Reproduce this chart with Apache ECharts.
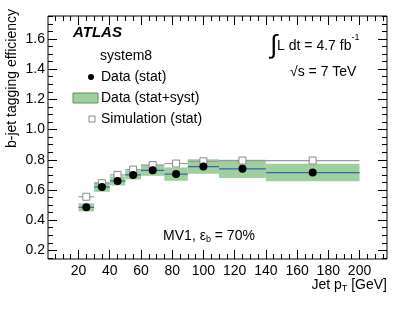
<!DOCTYPE html>
<html><head><meta charset="utf-8">
<script src="https://cdn.jsdelivr.net/npm/echarts@6/dist/echarts.min.js"></script>
<style>html,body{margin:0;padding:0;background:#fff}#c{width:407px;height:309px}</style>
</head><body><div id="c"></div>
<script>
// ---- data ----
var binLow    = [20, 30, 40, 50, 60, 75, 90, 110, 140];
var binHigh   = [30, 40, 50, 60, 75, 90, 110, 140, 200];
var binCenter = [25, 35, 45, 55, 67.5, 82.5, 100, 125, 170];
var dataEff   = [0.485, 0.62, 0.66, 0.70, 0.73, 0.705, 0.755, 0.74, 0.715];
var dataStat  = [0.012, 0.010, 0.010, 0.010, 0.010, 0.010, 0.012, 0.015, 0.020];
var dataTotal = [0.027, 0.032, 0.030, 0.030, 0.036, 0.044, 0.048, 0.060, 0.058];
var simEff    = [0.555, 0.645, 0.70, 0.735, 0.765, 0.775, 0.79, 0.795, 0.795];
var xTicks    = [20, 40, 60, 80, 100, 120, 140, 160, 180, 200];
var yTicks    = [0.2, 0.4, 0.6, 0.8, 1.0, 1.2, 1.4, 1.6];

var FONT = 'Liberation Sans, Arial, sans-serif';
var GREEN = '#9dd09d', BLUE = '#3b5fb5', GREY = '#9a9a9a';
var XMIN = 0.46, XMAX = 217.6, YMIN = 0.143, YMAX = 1.752;

var xMinor = [], yMinor = [];
for (var v = 5; v < XMAX; v += 5) if (v % 20 !== 0) xMinor.push(v);
for (var k = 3; k * 0.05 < YMAX; k++) if (k % 4 !== 0) yMinor.push(+(k * 0.05).toFixed(2));

function bandItems() { return binLow.map(function (lo, i) { return [lo, binHigh[i], dataEff[i], dataTotal[i]]; }); }
function dataBarItems() { return binLow.map(function (lo, i) { return [lo, binHigh[i], dataEff[i], dataStat[i], binCenter[i]]; }); }
function simBarItems() { return binLow.map(function (lo, i) { return [lo, binHigh[i], simEff[i]]; }); }

function mkX(pos, custom, len, labels) {
  return { type: 'value', position: pos, min: XMIN, max: XMAX, gridIndex: 0,
    axisLine: { show: false }, splitLine: { show: false },
    axisTick: { show: true, inside: true, length: len, customValues: custom, lineStyle: { color: '#000', width: 1 } },
    axisLabel: labels ? { show: true, customValues: custom, color: '#000', fontSize: 14, fontFamily: FONT, margin: 5 } : { show: false } };
}
function mkY(pos, custom, len, labels) {
  return { type: 'value', position: pos, min: YMIN, max: YMAX, gridIndex: 0,
    axisLine: { show: false }, splitLine: { show: false },
    axisTick: { show: true, inside: true, length: len, customValues: custom, lineStyle: { color: '#000', width: 1 } },
    axisLabel: labels ? { show: true, customValues: custom, color: '#000', fontSize: 14, fontFamily: FONT, margin: 3,
      formatter: function (v) { return v.toFixed(1); } } : { show: false } };
}

var chart = echarts.init(document.getElementById('c'), null, { renderer: 'canvas' });
chart.setOption({
  animation: false,
  grid: { left: 48, right: 20, top: 16, bottom: 50, show: true, borderColor: '#000', borderWidth: 1, backgroundColor: 'transparent' },
  xAxis: [ mkX('bottom', xTicks, 9, true), mkX('bottom', xMinor, 5, false), mkX('top', xTicks, 9, false), mkX('top', xMinor, 5, false) ],
  yAxis: [ mkY('left', yTicks, 9, true), mkY('left', yMinor, 5, false), mkY('right', yTicks, 9, false), mkY('right', yMinor, 5, false) ],
  series: [
    { type: 'custom', name: 'band', xAxisIndex: 0, yAxisIndex: 0, data: bandItems(), encode: { x: [0, 1], y: 2 },
      renderItem: function (params, api) {
        var p1 = api.coord([api.value(0), api.value(2) + api.value(3)]);
        var p2 = api.coord([api.value(1), api.value(2) - api.value(3)]);
        return { type: 'rect', shape: { x: p1[0], y: p1[1], width: p2[0] - p1[0], height: p2[1] - p1[1] }, style: { fill: GREEN } };
      }, z: 1 },
    { type: 'custom', name: 'simbar', xAxisIndex: 0, yAxisIndex: 0, data: simBarItems(), encode: { x: [0, 1], y: 2 },
      renderItem: function (params, api) {
        var a = api.coord([api.value(0), api.value(2)]);
        var b = api.coord([api.value(1), api.value(2)]);
        return { type: 'line', shape: { x1: a[0], y1: a[1], x2: b[0], y2: b[1] }, style: { stroke: GREY, lineWidth: 1.2 } };
      }, z: 2 },
    { type: 'custom', name: 'databar', xAxisIndex: 0, yAxisIndex: 0, data: dataBarItems(), encode: { x: [0, 1], y: 2 },
      renderItem: function (params, api) {
        var a = api.coord([api.value(0), api.value(2)]);
        var b = api.coord([api.value(1), api.value(2)]);
        var t = api.coord([api.value(4), api.value(2) + api.value(3)]);
        var d = api.coord([api.value(4), api.value(2) - api.value(3)]);
        return { type: 'group', children: [
          { type: 'line', shape: { x1: a[0], y1: a[1], x2: b[0], y2: b[1] }, style: { stroke: BLUE, lineWidth: 1.2 } },
          { type: 'line', shape: { x1: t[0], y1: t[1], x2: d[0], y2: d[1] }, style: { stroke: BLUE, lineWidth: 1.2 } }
        ] };
      }, z: 3 },
    { type: 'scatter', name: 'sim', xAxisIndex: 0, yAxisIndex: 0, data: binCenter.map(function (x, i) { return [x, simEff[i]]; }),
      symbol: 'rect', symbolSize: 7, itemStyle: { color: '#fff', borderColor: '#888', borderWidth: 1, opacity: 1 }, z: 4 },
    { type: 'scatter', name: 'data', xAxisIndex: 0, yAxisIndex: 0, data: binCenter.map(function (x, i) { return [x, dataEff[i]]; }),
      symbol: 'circle', symbolSize: 8, itemStyle: { color: '#000', opacity: 1 }, z: 5 }
  ],
  graphic: [
    { type: 'text', left: 73, top: 25, style: { text: 'ATLAS', font: 'italic bold 15px ' + FONT, fill: '#000' } },
    { type: 'text', x: 100, y: 56, style: { text: 'system8', font: '14px ' + FONT, fill: '#000', verticalAlign: 'middle' } },
    { type: 'circle', shape: { cx: 91, cy: 77, r: 3 }, style: { fill: '#000' } },
    { type: 'text', x: 101, y: 77, style: { text: 'Data (stat)', font: '14px ' + FONT, fill: '#000', verticalAlign: 'middle' } },
    { type: 'rect', shape: { x: 73, y: 93, width: 25, height: 10 }, style: { fill: GREEN, stroke: '#5e8f5e', lineWidth: 1 } },
    { type: 'text', x: 101, y: 98, style: { text: 'Data (stat+syst)', font: '14px ' + FONT, fill: '#000', verticalAlign: 'middle' } },
    { type: 'rect', shape: { x: 89, y: 116, width: 6, height: 6 }, style: { fill: '#fff', stroke: '#888', lineWidth: 1 } },
    { type: 'text', x: 101, y: 119, style: { text: 'Simulation (stat)', font: '14px ' + FONT, fill: '#000', verticalAlign: 'middle' } },
    { type: 'text', x: 270, y: 46, style: { text: '{i|∫}{t|L dt = 4.7 fb}{s|-1}', verticalAlign: 'middle',
        rich: { i: { fontSize: 26, fontFamily: FONT, fill: '#000' }, t: { fontSize: 14, fontFamily: FONT, fill: '#000' }, s: { fontSize: 9, fontFamily: FONT, fill: '#000', verticalAlign: 'top', padding: [0, 0, 8, 0] } } } },
    { type: 'text', x: 290, y: 72, style: { text: '√s = 7 TeV', font: '14px ' + FONT, fill: '#000', verticalAlign: 'middle' } },
    { type: 'text', x: 209, y: 236, style: { text: '{t|MV1, ε}{b|b}{t| = 70%}', align: 'center', verticalAlign: 'middle',
        rich: { t: { fontSize: 14, fontFamily: FONT, fill: '#000' }, b: { fontSize: 9, fontFamily: FONT, fill: '#000', padding: [8, 0, 0, 0] } } } },
    { type: 'text', x: 387, y: 285, style: { text: '{t|Jet p}{b|T}{t| [GeV]}', align: 'right', verticalAlign: 'middle',
        rich: { t: { fontSize: 14, fontFamily: FONT, fill: '#000' }, b: { fontSize: 9, fontFamily: FONT, fill: '#000', padding: [8, 0, 0, 0] } } } },
    { type: 'text', x: 12, y: 9, rotation: Math.PI / 2, style: { text: 'b-jet tagging efficiency', font: '14px ' + FONT, fill: '#000', align: 'right', verticalAlign: 'middle' } }
  ]
});
</script></body></html>
